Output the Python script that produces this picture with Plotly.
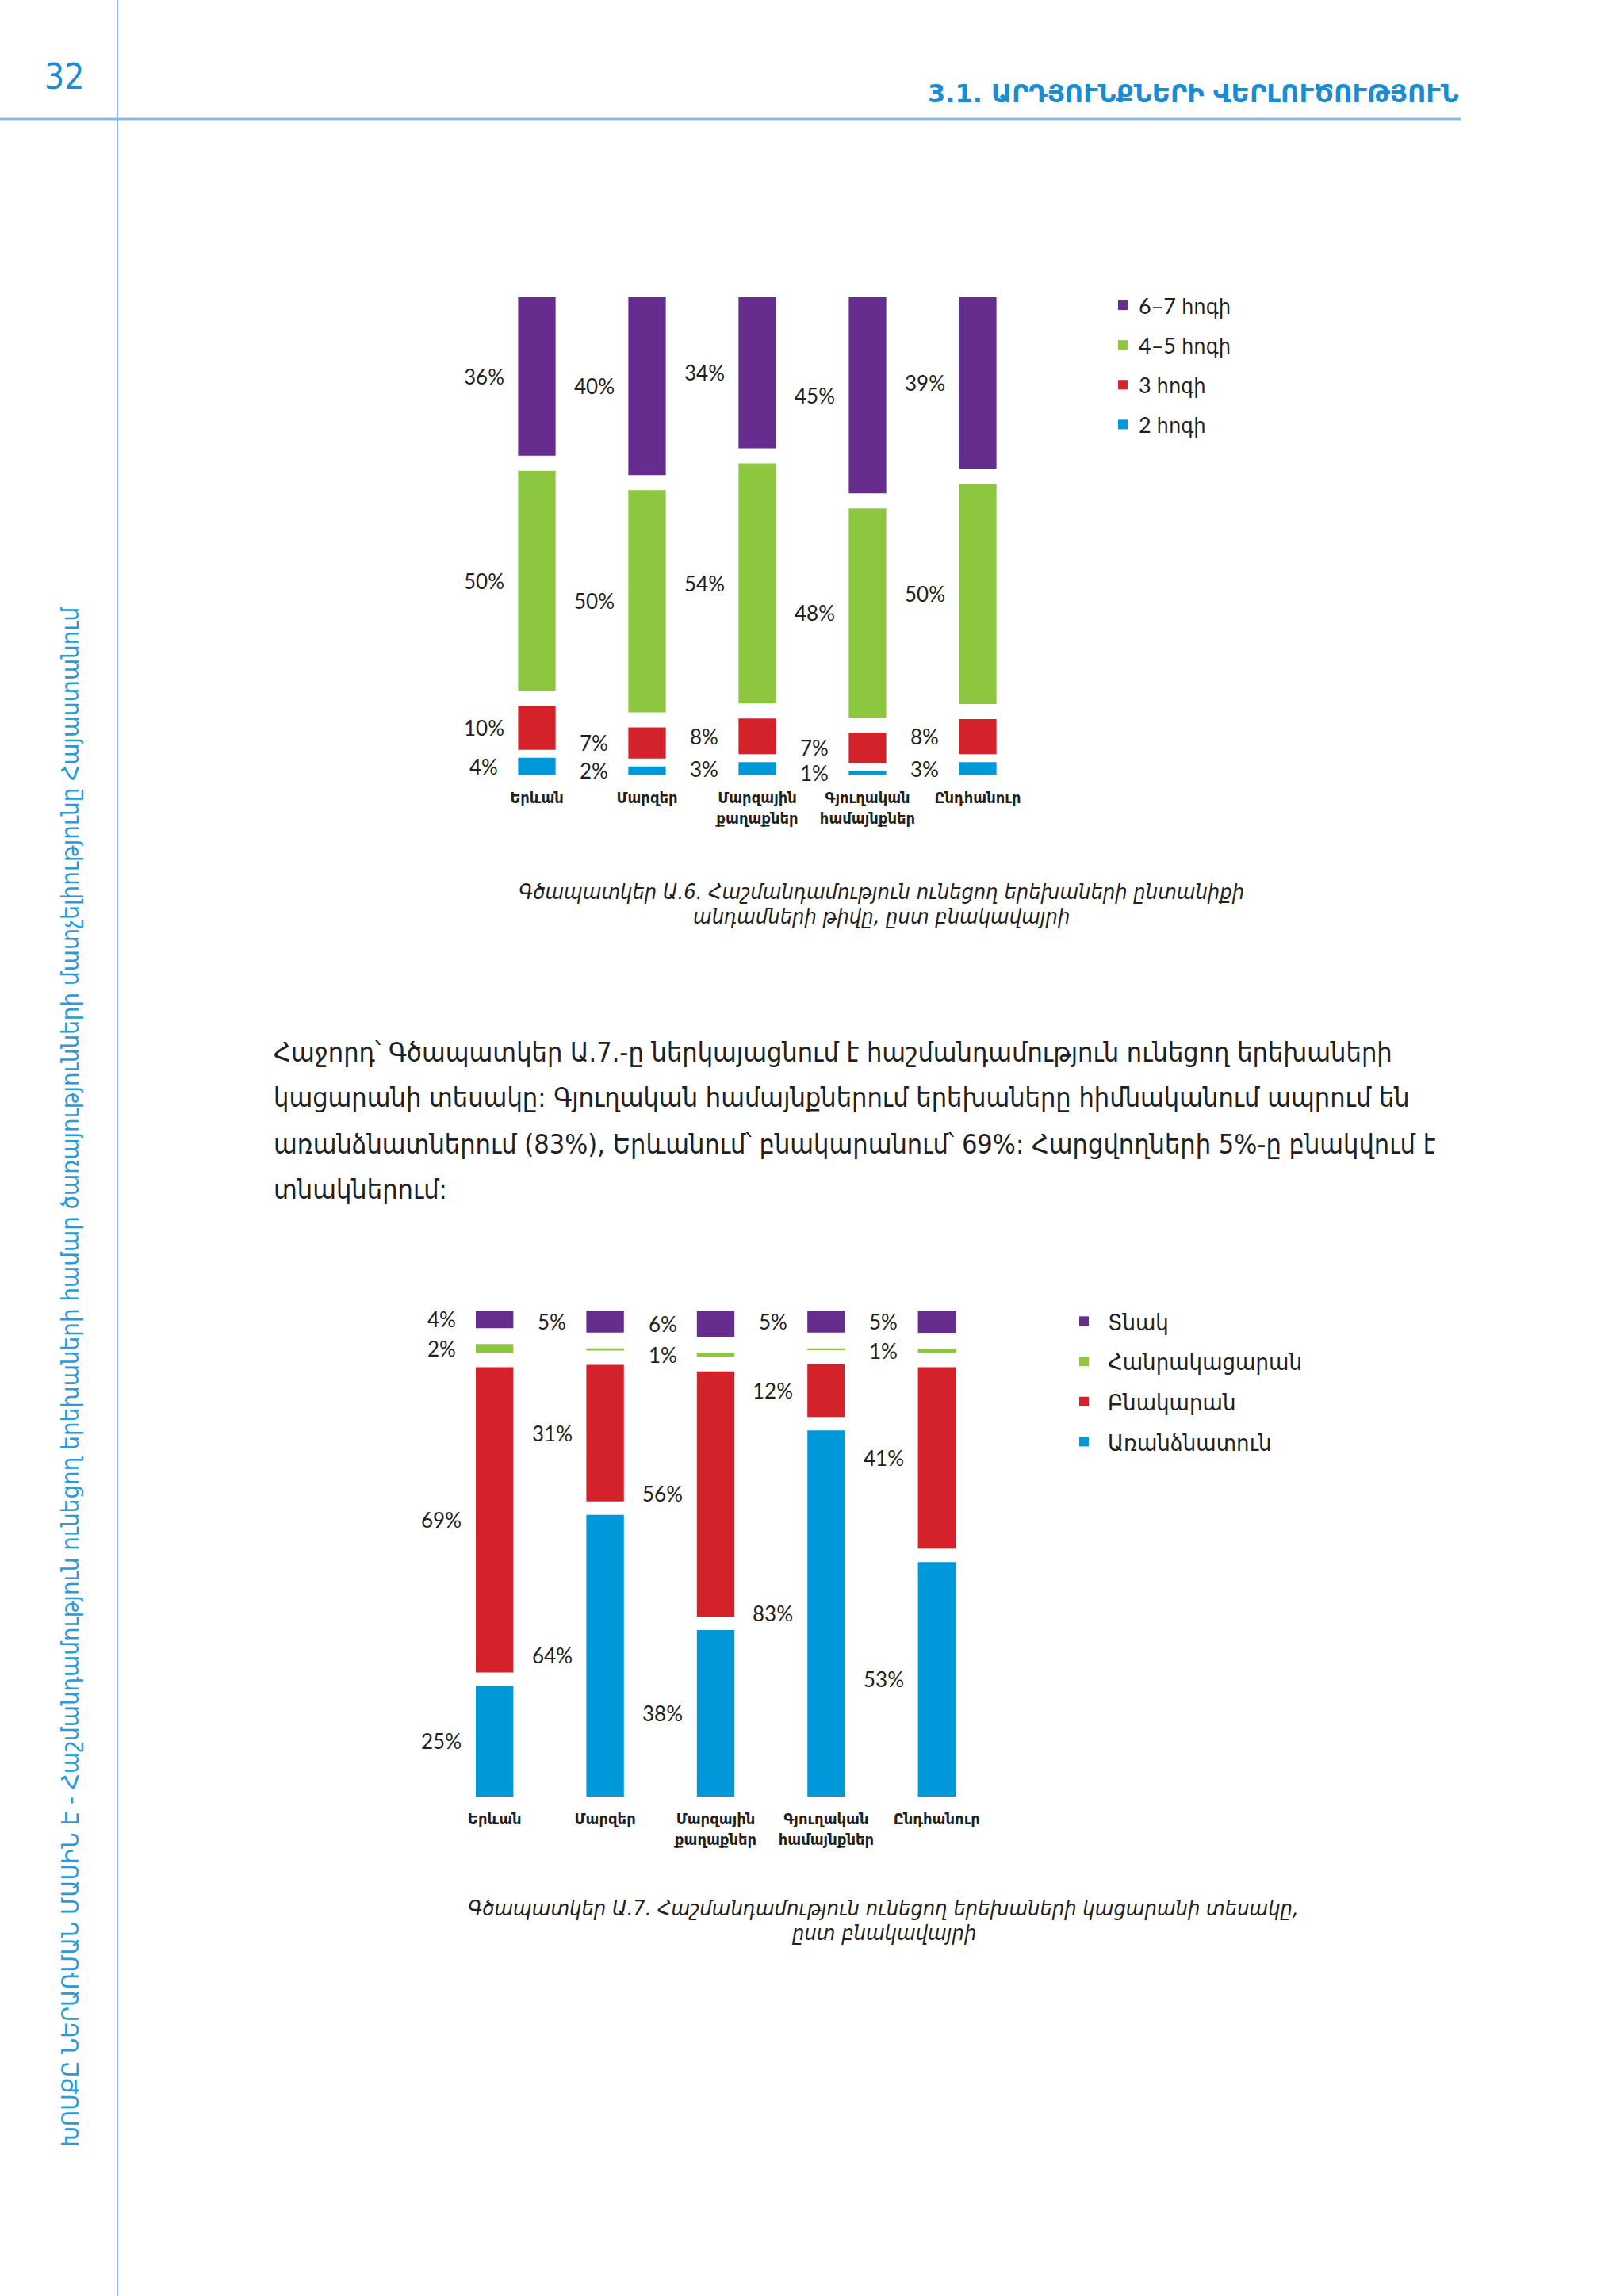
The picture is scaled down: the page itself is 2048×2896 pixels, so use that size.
import plotly.graph_objects as go

W, H = 2048, 2896

# ---------------- data ----------------
categories = ["Երևան", "Մարզեր", "Մարզային<br>քաղաքներ", "Գյուղական<br>համայնքներ", "Ընդհանուր"]

# Chart A.6 - number of family members (bottom -> top)
fig1_names = ["2 հոգի", "3 հոգի", "4–5 հոգի", "6–7 հոգի"]
fig1_two = [4, 2, 3, 1, 3]
fig1_three = [10, 7, 8, 7, 8]
fig1_fourfive = [50, 50, 54, 48, 50]
fig1_sixseven = [36, 40, 34, 45, 39]

# Chart A.7 - type of dwelling (bottom -> top)
fig2_names = ["Առանձնատուն", "Բնակարան", "Հանրակացարան", "Տնակ"]
fig2_house = [25, 64, 38, 83, 53]
fig2_apartment = [69, 31, 56, 12, 41]
fig2_dorm = [2, 0.5, 1, 0.3, 1]
fig2_hut = [4, 5, 6, 5, 5]

colors = ["#0098d8", "#d4222b", "#8dc63f", "#662d8f"]  # blue, red, green, purple

# ---------------- layout helpers ----------------
def px_x(px):
    return px / W

def px_y(py):
    return 1 - py / H

TEXT = "#231f20"
BLUE_TXT = "#1a8cd4"
LINE = "#8ab8e4"
COND = "DejaVu Sans Condensed, DejaVu Sans, sans-serif"
SANS = "DejaVu Sans, sans-serif"
NUM = "Lato, DejaVu Sans Condensed, DejaVu Sans, sans-serif"

# chart geometry (pixels)
C1 = dict(x0=607.5, x1=1302.5, top=375, bottom=978, gaps=[10, 19, 19])
C2 = dict(x0=554, x1=1251, top=1653, bottom=2266, gaps=[17, 18, 20])
BAR_W = 0.34
LABEL_SHIFT = -67


def stack(series, geo):
    extent = geo["bottom"] - geo["top"]
    unit = (extent - sum(geo["gaps"])) / 100.0  # px per percent
    gaps_u = [g / unit for g in geo["gaps"]]
    n = len(series[0])
    totals = [sum(s[i] for s in series) for i in range(n)]
    result = []
    for k, s in enumerate(series):
        h = [s[i] * 100.0 / totals[i] for i in range(n)]
        b = [sum(series[j][i] * 100.0 / totals[i] for j in range(k)) + sum(gaps_u[:k])
             for i in range(n)]
        result.append((h, b))
    ymax = 100 + sum(gaps_u)
    return result, ymax


fig = go.Figure()
annotations = []

charts = [
    ([fig1_two, fig1_three, fig1_fourfive, fig1_sixseven], fig1_names, C1, "x", "y", "legend"),
    ([fig2_house, fig2_apartment, fig2_dorm, fig2_hut], fig2_names, C2, "x2", "y2", "legend2"),
]

ymaxes = []
for series, names, geo, xa, ya, leg in charts:
    stacks, ymax = stack(series, geo)
    ymaxes.append(ymax)
    nser = len(series)
    for k, (vals, (h, b)) in enumerate(zip(series, stacks)):
        fig.add_trace(go.Bar(
            x=categories, y=h, base=b, width=BAR_W,
            marker=dict(color=colors[k], line=dict(width=0)),
            name=names[k], xaxis=xa, yaxis=ya, legend=leg,
            legendgroup=f"{leg}_{k}", legendrank=(nser - k) * 10,
            hovertemplate="%{x}: " + "%{customdata}%<extra>" + names[k] + "</extra>",
            customdata=vals,
        ))
        for i, v in enumerate(vals):
            if v < 1:
                continue
            annotations.append(dict(
                x=categories[i], y=b[i] + h[i] / 2, xref=xa, yref=ya,
                text=f"{v:g}%", showarrow=False, xanchor="center", yanchor="middle",
                xshift=LABEL_SHIFT,
                font=dict(family=NUM, size=26, color=TEXT),
            ))

axis_common = dict(type="category", range=[-0.5, 4.5], showgrid=False, zeroline=False,
                   showline=False, ticks="", fixedrange=True,
                   tickfont=dict(family=COND, size=20, color=TEXT, weight="bold"),
                   ticklabelstandoff=14)
yaxis_common = dict(visible=False, showgrid=False, zeroline=False, fixedrange=True)

fig.update_layout(
    xaxis=dict(domain=[px_x(C1["x0"]), px_x(C1["x1"])], anchor="y", **axis_common),
    yaxis=dict(domain=[px_y(C1["bottom"]), px_y(C1["top"])], range=[0, ymaxes[0]],
               anchor="x", **yaxis_common),
    xaxis2=dict(domain=[px_x(C2["x0"]), px_x(C2["x1"])], anchor="y2", **axis_common),
    yaxis2=dict(domain=[px_y(C2["bottom"]), px_y(C2["top"])], range=[0, ymaxes[1]],
                anchor="x2", **yaxis_common),
)

# legends
fig.update_layout(
    legend=dict(x=px_x(1396), y=px_y(361), xanchor="left", yanchor="top",
                bgcolor="rgba(0,0,0,0)", traceorder="grouped", tracegroupgap=12,
                font=dict(family=NUM, size=27, color=TEXT)),
    legend2=dict(x=px_x(1337), y=px_y(1641), xanchor="left", yanchor="top",
                 bgcolor="rgba(0,0,0,0)", traceorder="grouped", tracegroupgap=10,
                 itemwidth=50,
                 font=dict(family=COND, size=29, color=TEXT)),
)

# ---------------- page decorations ----------------
shapes = [
    dict(type="line", xref="paper", yref="paper", x0=px_x(148), x1=px_x(148), y0=0, y1=1,
         line=dict(color=LINE, width=2)),
    dict(type="line", xref="paper", yref="paper", x0=0, x1=px_x(1842), y0=px_y(150), y1=px_y(150),
         line=dict(color=LINE, width=3)),
]

page_text = [
    dict(x=px_x(81), y=px_y(97), text="32", xanchor="center", yanchor="middle",
         font=dict(family=COND, size=44, color=BLUE_TXT)),
    dict(x=px_x(1842), y=px_y(118), text="3.1. ԱՐԴՅՈՒՆՔՆԵՐԻ ՎԵՐԼՈՒԾՈՒԹՅՈՒՆ",
         xanchor="right", yanchor="middle",
         font=dict(family=SANS, size=32, color=BLUE_TXT, weight="bold")),
    dict(x=px_x(88), y=px_y(1736),
         text="ԽՈՍՔԸ ՆԵՐԱՌՄԱՆ ՄԱՍԻՆ Է - Հաշմանդամություն ունեցող երեխաների համար "
              "ծառայությունների մատչելիությունը Հայաստանում",
         textangle=-90, xanchor="center", yanchor="middle",
         font=dict(family=COND, size=31, color="#2a9bd8")),
]

captions = [
    (1111, 1124, "Գծապատկեր Ա.6. Հաշմանդամություն ունեցող երեխաների ընտանիքի"),
    (1111, 1155, "անդամների թիվը, ըստ բնակավայրի"),
    (1114, 2406, "Գծապատկեր Ա.7. Հաշմանդամություն ունեցող երեխաների կացարանի տեսակը,"),
    (1114, 2437, "ըստ բնակավայրի"),
]
for cx, cy, t in captions:
    page_text.append(dict(x=px_x(cx), y=px_y(cy), text=t, xanchor="center", yanchor="middle",
                          font=dict(family=COND, size=27, color=TEXT, style="italic")))

paragraph = [
    "Հաջորդ՝ Գծապատկեր Ա.7.-ը ներկայացնում է հաշմանդամություն ունեցող երեխաների",
    "կացարանի տեսակը: Գյուղական համայնքներում երեխաները հիմնականում ապրում են",
    "առանձնատներում (83%), Երևանում՝ բնակարանում՝ 69%: Հարցվողների 5%-ը բնակվում է",
    "տնակներում:",
]
para_y = [1327, 1384, 1443, 1500]
for t, yy in zip(paragraph, para_y):
    page_text.append(dict(x=px_x(343), y=px_y(yy), text=t, xanchor="left", yanchor="middle",
                          font=dict(family=COND, size=34, color=TEXT)))

for a in page_text:
    a.update(xref="paper", yref="paper", showarrow=False)
    annotations.append(a)

fig.update_layout(
    width=W, height=H, autosize=False,
    margin=dict(l=0, r=0, t=0, b=0, pad=0),
    paper_bgcolor="white", plot_bgcolor="rgba(0,0,0,0)",
    barmode="overlay", showlegend=True,
    shapes=shapes, annotations=annotations,
    font=dict(family=COND, color=TEXT),
)

fig.write_html("out.html", include_plotlyjs=True,
               config={"displayModeBar": False},
               post_script="document.body.style.margin='0';")
